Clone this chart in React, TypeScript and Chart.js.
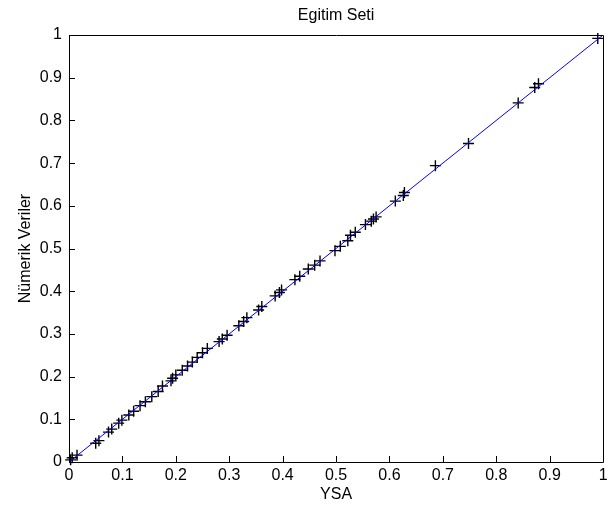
import React, { useEffect, useRef } from "react";
import { Chart, registerables } from "chart.js";

Chart.register(...registerables);

const titleText = "Egitim Seti";
const xAxisTitle = "YSA";
const yAxisTitle = "Nümerik Veriler";

const tickValues = [0, 0.1, 0.2, 0.3, 0.4, 0.5, 0.6, 0.7, 0.8, 0.9, 1];
const tickLabels = ["0", "0.1", "0.2", "0.3", "0.4", "0.5", "0.6", "0.7", "0.8", "0.9", "1"];

// YSA (network output) values
const ysaValues = [
  0.003, 0.006, 0.015, 0.05, 0.056, 0.074, 0.08, 0.093, 0.099, 0.112, 0.121, 0.133, 0.143, 0.155, 0.167,
  0.175, 0.191, 0.194, 0.2, 0.212, 0.222, 0.231, 0.24, 0.25, 0.259, 0.281, 0.287, 0.296, 0.318, 0.327, 0.333,
  0.355, 0.361, 0.386, 0.394, 0.398, 0.423, 0.432, 0.448, 0.46, 0.47, 0.498, 0.508, 0.522,
  0.527, 0.536, 0.555, 0.566, 0.57, 0.575, 0.611, 0.626, 0.628, 0.686,
  0.748, 0.841, 0.872, 0.879, 0.99,
];

// Numerical (target) values
const numericValues = [
  0.005, 0.01, 0.016, 0.044, 0.05, 0.07, 0.077, 0.091, 0.098, 0.11, 0.119, 0.132, 0.141, 0.153, 0.165,
  0.178, 0.19, 0.196, 0.204, 0.215, 0.225, 0.234, 0.245, 0.256, 0.266, 0.282, 0.288, 0.297, 0.319, 0.329, 0.338,
  0.356, 0.364, 0.389, 0.397, 0.403, 0.427, 0.435, 0.452, 0.461, 0.471, 0.495, 0.505, 0.518,
  0.531, 0.538, 0.556, 0.564, 0.569, 0.574, 0.611, 0.624, 0.631, 0.694,
  0.746, 0.841, 0.877, 0.886, 0.992,
];

const fitLineX = [0, 1];
const fitLineY = [0, 1];

const FONT_FAMILY = "'Liberation Sans', Arial, Helvetica, sans-serif";
const FONT_SIZE = 16;

const boxPlugin = {
  id: "matlabBox",
  afterDraw(chart: any) {
    const { ctx, chartArea, scales } = chart;
    const { left, right, top, bottom } = chartArea;
    ctx.save();
    ctx.strokeStyle = "#000";
    ctx.lineWidth = 1;
    ctx.beginPath();
    ctx.rect(Math.round(left) + 0.5, Math.round(top) + 0.5, Math.round(right - left), Math.round(bottom - top));
    ctx.stroke();
    const tl = 6;
    ctx.beginPath();
    tickValues.forEach((v) => {
      const x = Math.round(scales.x.getPixelForValue(v)) + 0.5;
      ctx.moveTo(x, bottom);
      ctx.lineTo(x, bottom - tl);
      const y = Math.round(scales.y.getPixelForValue(v)) + 0.5;
      ctx.moveTo(left, y);
      ctx.lineTo(left + tl, y);
    });
    ctx.stroke();
    ctx.fillStyle = "#000";
    ctx.font = `${FONT_SIZE}px ${FONT_FAMILY}`;
    ctx.textAlign = "center";
    ctx.textBaseline = "middle";
    ctx.fillText(titleText, (left + right) / 2, 16);
    ctx.restore();
  },
};

export default function App() {
  const canvasRef = useRef<HTMLCanvasElement | null>(null);

  useEffect(() => {
    document.body.style.margin = "0";
    const canvas = canvasRef.current;
    if (!canvas) return;

    const points = ysaValues.map((x, i) => ({ x, y: numericValues[i] }));
    const line = fitLineX.map((x, i) => ({ x, y: fitLineY[i] }));

    const tickFont = { family: FONT_FAMILY, size: FONT_SIZE };

    const chart = new Chart(canvas, {
      type: "scatter",
      data: {
        datasets: [
          {
            label: "fit",
            data: line,
            showLine: true,
            borderColor: "rgb(0,0,255)",
            borderWidth: 1,
            pointRadius: 0,
            pointHoverRadius: 0,
          },
          {
            label: "data",
            data: points,
            showLine: false,
            pointStyle: "cross",
            pointRadius: 5.5,
            pointBorderColor: "#000",
            pointBackgroundColor: "#000",
            pointBorderWidth: 1.4,
            borderColor: "#000",
            clip: false as any,
          },
        ],
      },
      options: {
        responsive: false,
        animation: false,
        layout: { padding: { top: 35, right: 3, left: 0, bottom: 0 } },
        plugins: {
          legend: { display: false },
          title: { display: false },
          tooltip: { enabled: false },
        },
        scales: {
          x: {
            type: "linear",
            min: 0,
            max: 1,
            afterBuildTicks: (scale: any) => {
              scale.ticks = tickValues.map((v) => ({ value: v }));
            },
            afterFit: (scale: any) => {
              scale.height = 44;
              scale.paddingLeft = 0;
              scale.paddingRight = 0;
            },
            grid: { display: false, drawTicks: false },
            border: { display: false },
            ticks: {
              color: "#000",
              font: tickFont,
              padding: 4,
              maxRotation: 0,
              autoSkip: false,
              callback: (_v: any, i: number) => tickLabels[i],
            },
            title: {
              display: true,
              text: xAxisTitle,
              color: "#000",
              font: tickFont,
              padding: { top: 0, bottom: 2 },
            },
          },
          y: {
            type: "linear",
            min: 0,
            max: 1,
            afterBuildTicks: (scale: any) => {
              scale.ticks = tickValues.map((v) => ({ value: v }));
            },
            afterFit: (scale: any) => {
              scale.width = 69;
              scale.paddingTop = 0;
              scale.paddingBottom = 0;
            },
            grid: { display: false, drawTicks: false },
            border: { display: false },
            ticks: {
              color: "#000",
              font: tickFont,
              padding: 7,
              autoSkip: false,
              callback: (_v: any, i: number) => tickLabels[i],
            },
            title: {
              display: true,
              text: yAxisTitle,
              color: "#000",
              font: tickFont,
              padding: { top: 16, bottom: 0 },
            },
          },
        },
      },
      plugins: [boxPlugin],
    });

    return () => chart.destroy();
  }, []);

  return (
    <div style={{ width: 610, height: 506, background: "#fff" }}>
      <canvas ref={canvasRef} width={610} height={506} style={{ display: "block" }} />
    </div>
  );
}
